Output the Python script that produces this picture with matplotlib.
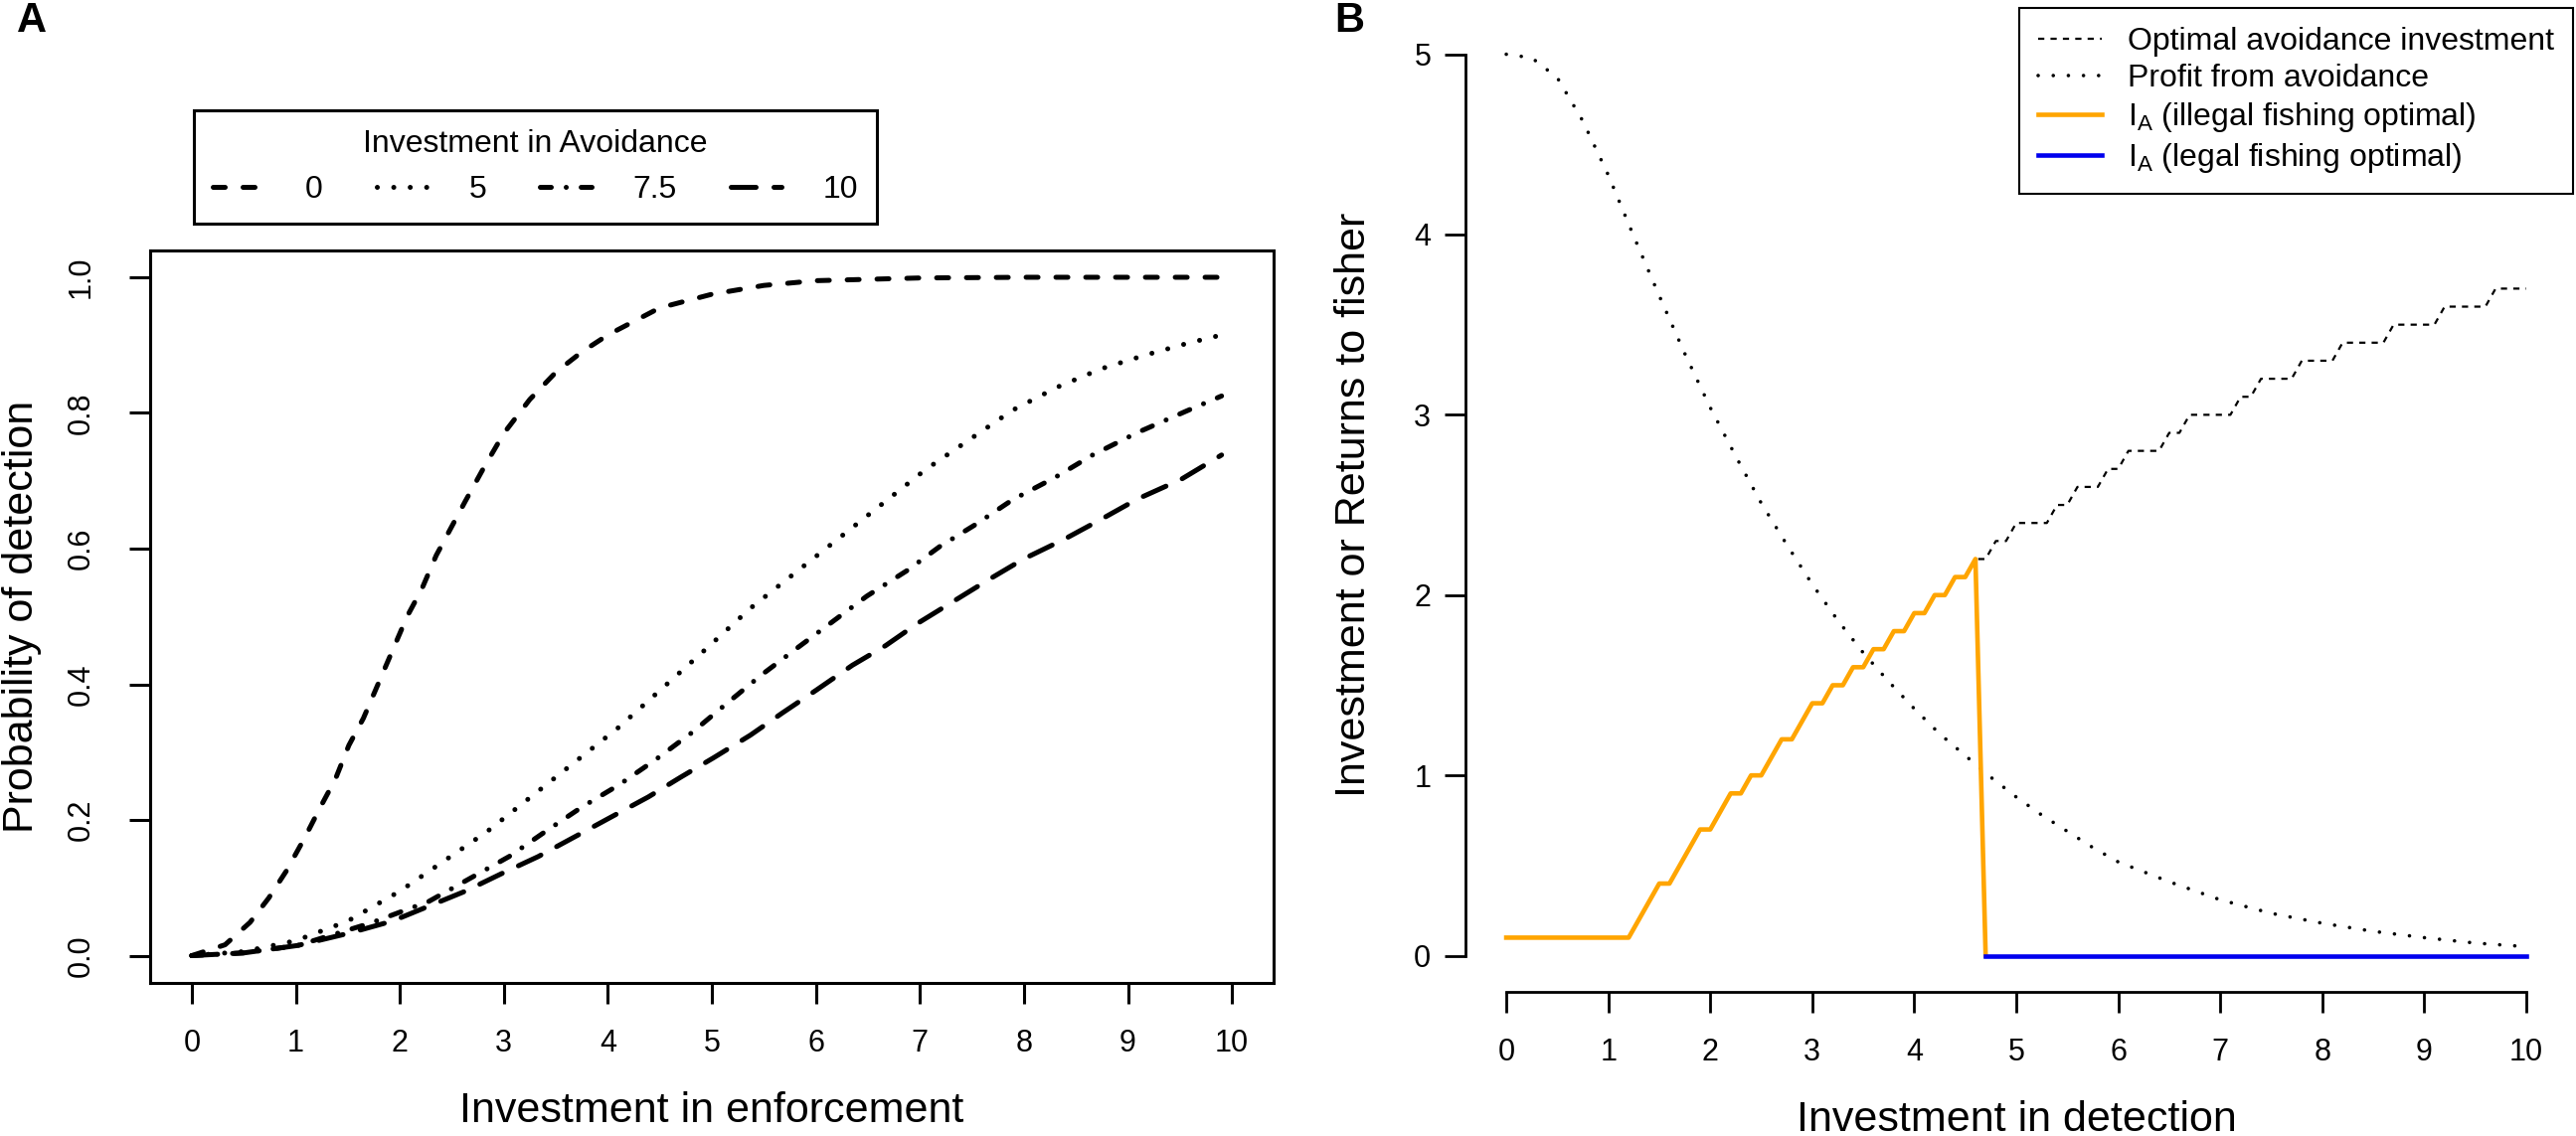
import numpy as np
import matplotlib
matplotlib.use('Agg')
import matplotlib.pyplot as plt
from matplotlib.lines import Line2D

plt.rcParams['font.family'] = ['Liberation Sans', 'DejaVu Sans']

# ---- panel A : probability of detection vs enforcement, one curve per avoidance level
avoid_levels = ['0', '5', '7.5', '10']

xa_0 = [0, 0.32, 0.56, 0.74, 0.91, 1.09, 1.24, 1.38, 1.51, 1.65, 1.79, 1.93, 2.07, 2.21,
        2.35, 2.49, 2.63, 2.81, 3.0, 3.25, 3.5, 3.75, 4.0, 4.25, 4.5, 5.0, 5.5, 6.0, 7.0,
        8.0, 9.0, 9.9]
ya_0 = [0, 0.016, 0.049, 0.085, 0.125, 0.175, 0.22, 0.26, 0.31, 0.35, 0.40, 0.45, 0.50,
        0.54, 0.59, 0.63, 0.67, 0.72, 0.77, 0.82, 0.86, 0.89, 0.915, 0.935, 0.955, 0.975,
        0.988, 0.995, 0.999, 1.0, 1.0, 1.0]

xa_5 = [0, 0.5, 1.0, 1.5, 2.0, 2.42, 2.84, 3.26, 3.68, 4.1, 4.53, 4.95, 5.37, 5.79, 6.21,
        6.63, 7.05, 7.47, 7.89, 8.32, 8.74, 9.16, 9.58, 9.9]
ya_5 = [0, 0.006, 0.022, 0.051, 0.095, 0.139, 0.183, 0.234, 0.285, 0.336, 0.395, 0.453,
        0.512, 0.563, 0.614, 0.665, 0.716, 0.760, 0.804, 0.838, 0.865, 0.885, 0.903, 0.915]

xa_75 = [0, 0.5, 1.02, 1.72, 2.28, 2.63, 3.05, 3.40, 3.75, 4.11, 4.46, 4.81, 5.09, 5.47,
         5.79, 6.14, 6.49, 6.88, 7.19, 7.54, 7.89, 8.30, 8.66, 9.09, 9.58, 9.9]
ya_75 = [0, 0.004, 0.015, 0.048, 0.080, 0.11, 0.146, 0.183, 0.219, 0.252, 0.289, 0.329,
         0.365, 0.413, 0.45, 0.49, 0.53, 0.568, 0.603, 0.636, 0.672, 0.705, 0.738, 0.771,
         0.804, 0.825]

xa_10 = [0, 0.5, 1.02, 1.51, 1.93, 2.28, 2.63, 2.98, 3.33, 3.68, 4.04, 4.39, 4.70, 5.02,
         5.37, 5.68, 6.0, 6.35, 6.67, 6.98, 7.33, 7.68, 8.0, 8.39, 8.74, 9.09, 9.51, 9.9]
ya_10 = [0, 0.004, 0.015, 0.033, 0.051, 0.073, 0.095, 0.121, 0.146, 0.175, 0.205, 0.234,
         0.263, 0.292, 0.325, 0.358, 0.391, 0.428, 0.457, 0.49, 0.523, 0.556, 0.585, 0.614,
         0.643, 0.673, 0.702, 0.738]

# ---- panel B : optimal avoidance investment (rounded to 0.1) and profit from avoidance
detect_x = np.round(np.arange(0, 101) * 0.1, 1)   # detection investment grid, step 0.1

opt_start = [0.0, 1.3, 1.4, 1.5, 1.7, 1.8, 1.9, 2.1, 2.2, 2.4, 2.6, 2.7, 2.9, 3.0, 3.2,
             3.4, 3.6, 3.8, 4.0, 4.2, 4.4, 4.6, 4.8, 5.0, 5.4, 5.6, 5.9, 6.1, 6.5, 6.7,
             7.2, 7.4, 7.8, 8.2, 8.7, 9.2, 9.7]
opt_level = [0.1, 0.2, 0.3, 0.4, 0.5, 0.6, 0.7, 0.8, 0.9, 1.0, 1.1, 1.2, 1.3, 1.4, 1.5,
             1.6, 1.7, 1.8, 1.9, 2.0, 2.1, 2.2, 2.3, 2.4, 2.5, 2.6, 2.7, 2.8, 2.9, 3.0,
             3.1, 3.2, 3.3, 3.4, 3.5, 3.6, 3.7]
legal_from = 4.7    # from here on legal fishing is optimal (no avoidance)

profit_x = [0, 0.25, 0.5, 0.75, 1.0, 1.25, 1.5, 1.75, 2.0, 2.25, 2.5, 2.75, 3.0, 3.25, 3.5,
            3.75, 4.0, 4.25, 4.5, 4.75, 5.0, 5.25, 5.5, 5.75, 6.0, 6.5, 7.0, 7.5, 8.0, 8.5,
            9.0, 9.5, 10.0]
profit_y = [5.0, 4.98, 4.87, 4.63, 4.33, 3.99, 3.66, 3.34, 3.04, 2.77, 2.51, 2.28, 2.06,
            1.86, 1.68, 1.52, 1.37, 1.23, 1.11, 0.99, 0.88, 0.78, 0.69, 0.60, 0.52, 0.41,
            0.31, 0.235, 0.18, 0.135, 0.10, 0.07, 0.05]

idx = np.searchsorted(opt_start, detect_x + 1e-9) - 1
opt_y = np.array(opt_level)[idx]
ill = detect_x < legal_from - 1e-9
ill_x = np.append(detect_x[ill], legal_from)
ill_y = np.append(opt_y[ill], 0.0)
leg_x = detect_x[~ill]
leg_y = np.zeros(len(leg_x))

fig = plt.figure(figsize=(25.91, 11.43), dpi=100)
axA = fig.add_axes([0.0583, 0.1349, 0.4361, 0.6449])
axB = fig.add_axes([0.5689, 0.127, 0.4276, 0.857])

lwA = 3.6
stylesA = [(0, (2.4, 3.6)), (0, (0.01, 3.3)), (0, (2.2, 3.0, 0.01, 3.0)), (0, (5.0, 3.6))]
curves = [(xa_0, ya_0), (xa_5, ya_5), (xa_75, ya_75), (xa_10, ya_10)]
handles = []
for (xs, ys), ls, lab in zip(curves, stylesA, avoid_levels):
    axA.plot(xs, ys, color='black', lw=lwA, linestyle=ls,
             dash_capstyle='round', solid_capstyle='round')
    handles.append(Line2D([], [], color='black', lw=lwA, linestyle=ls,
                          dash_capstyle='round', label=lab))

axA.set_xlim(-0.4, 10.4)
axA.set_ylim(-0.04, 1.04)
axA.set_xticks(range(0, 11))
axA.set_yticks([0, 0.2, 0.4, 0.6, 0.8, 1.0])
axA.set_yticklabels(['0.0', '0.2', '0.4', '0.6', '0.8', '1.0'], rotation=90, va='center')
for s in axA.spines.values():
    s.set_linewidth(2.2)
axA.tick_params(width=2.2, length=15, labelsize=22)
axA.tick_params(axis='x', pad=18)
axA.tick_params(axis='y', pad=24)
axA.set_xlabel('Investment in enforcement', fontsize=31, labelpad=24)
axA.set_ylabel('Probability of detection', fontsize=31, labelpad=18)

legA = fig.legend(handles=handles, ncol=4, title='Investment in Avoidance', fontsize=23,
                  title_fontsize=23, loc='center', bbox_to_anchor=(0.2078, 0.853),
                  frameon=True, fancybox=False, edgecolor='black', framealpha=1,
                  handlelength=1.6, columnspacing=1.7, handletextpad=1.3, borderpad=0.6)
legA.get_frame().set_linewidth(2.2)

# panel B
axB.plot(detect_x, opt_y, color='black', lw=1.6, linestyle=(0, (2.8, 2.8)),
         label='Optimal avoidance investment')
axB.plot(profit_x, profit_y, color='black', lw=2.6, linestyle=(0, (0.01, 4.2)),
         dash_capstyle='round', label='Profit from avoidance')
axB.plot(ill_x, ill_y, color='#FFA500', lw=3.3,
         label=r'I$_\mathregular{A}$ (illegal fishing optimal)')
axB.plot(leg_x, leg_y, color='#0000EE', lw=3.3,
         label=r'I$_\mathregular{A}$ (legal fishing optimal)')

axB.set_xlim(-0.4, 10.4)
axB.set_ylim(-0.2, 5.2)
axB.set_xticks(range(0, 11))
axB.set_yticks(range(0, 6))
axB.spines['top'].set_visible(False)
axB.spines['right'].set_visible(False)
axB.spines['left'].set_bounds(0, 5)
axB.spines['bottom'].set_bounds(0, 10)
for s in axB.spines.values():
    s.set_linewidth(2.0)
axB.tick_params(width=2.0, length=15, labelsize=22)
axB.tick_params(axis='x', pad=18)
axB.tick_params(axis='y', pad=10)
axB.set_xlabel('Investment in detection', fontsize=31, labelpad=24)
axB.set_ylabel('Investment or Returns to fisher', fontsize=31, labelpad=29)

legB = axB.legend(loc='upper right', bbox_to_anchor=(0.9988, 0.993),
                  bbox_transform=fig.transFigure, fontsize=23, frameon=True,
                  fancybox=False, edgecolor='black', framealpha=1, handlelength=2.0,
                  labelspacing=0.22, borderpad=0.6, handletextpad=0.8, borderaxespad=0)
legB.get_frame().set_linewidth(1.5)

fig.text(0.0064, 0.982, 'A', fontsize=30, fontweight='bold', va='center')
fig.text(0.518, 0.982, 'B', fontsize=30, fontweight='bold', va='center')

fig.savefig('out.png', dpi=100)
